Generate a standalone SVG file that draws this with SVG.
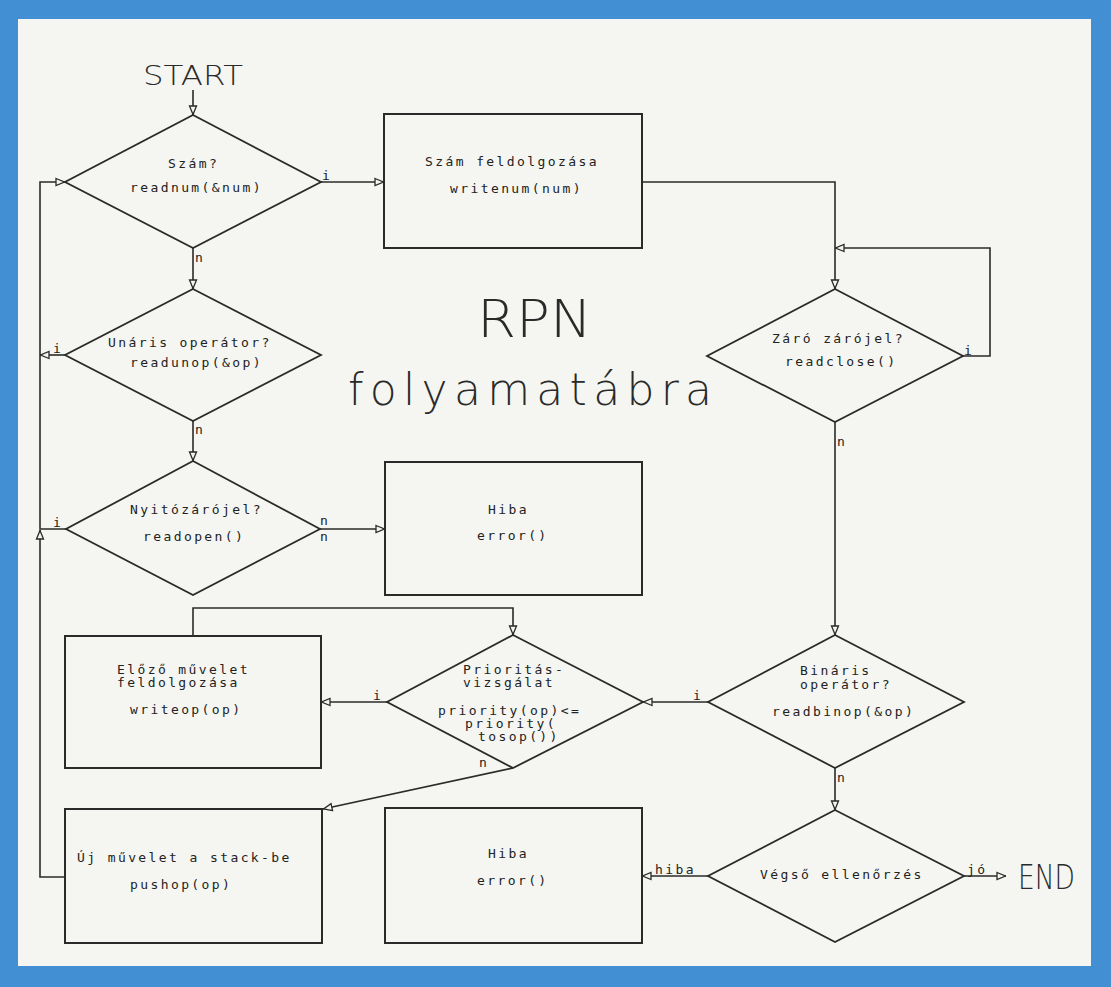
<svg xmlns="http://www.w3.org/2000/svg" width="1111" height="987" viewBox="0 0 1111 987">
<style>
.shape{fill:none;stroke:#2a2a2a;stroke-width:1.8}
.box{fill:none;stroke:#2a2a2a;stroke-width:2}
.con{fill:none;stroke:#2a2a2a;stroke-width:1.6}
.t{font-family:"DejaVu Sans Mono","Liberation Mono",monospace;font-size:13px;letter-spacing:2.4px;fill:#222}
.big{font-family:"DejaVu Sans","Liberation Sans",sans-serif;font-weight:200;fill:#2a2a2a}
</style>
<defs>
<marker id="arr" viewBox="0 0 10 10" refX="10" refY="5" markerWidth="10" markerHeight="10" markerUnits="userSpaceOnUse" orient="auto">
<path d="M1,1.5 L9.5,5 L1,8.5 z" fill="#f4f5ef" stroke="#2a2a2a" stroke-width="1.3"/>
</marker>
</defs>
<rect x="0" y="0" width="1111" height="987" fill="#4290d3"/>
<rect x="18" y="19" width="1073" height="947" fill="#f5f6f1"/>

<g id="title">
<text class="big" x="477" y="337" font-size="52" textLength="115" lengthAdjust="spacingAndGlyphs">RPN</text>
<text class="big" x="348" y="405" font-size="44" textLength="364" lengthAdjust="spacing">folyamatábra</text>
</g>

<g id="start"><text class="big" x="143" y="85" font-size="27" textLength="100" lengthAdjust="spacingAndGlyphs">START</text></g>
<g id="end"><text class="big" x="1018" y="889" font-size="34" textLength="57" lengthAdjust="spacingAndGlyphs">END</text></g>

<g id="connectors">
<path class="con" d="M193,90 V115" marker-end="url(#arr)"/>
<path class="con" d="M321,182 H384" marker-end="url(#arr)"/>
<path class="con" d="M642,182 H835 V289" marker-end="url(#arr)"/>
<path class="con" d="M963,356 H990 V248 H835" marker-end="url(#arr)"/>
<path class="con" d="M193,248 V289" marker-end="url(#arr)"/>
<path class="con" d="M65,355 H40" marker-end="url(#arr)"/>
<path class="con" d="M193,421 V461" marker-end="url(#arr)"/>
<path class="con" d="M65,877 H40 V530" marker-end="url(#arr)"/>
<path class="con" d="M66,529 H40 V182 H65" marker-end="url(#arr)"/>
<path class="con" d="M320,529 H385" marker-end="url(#arr)"/>
<path class="con" d="M835,422 V635" marker-end="url(#arr)"/>
<path class="con" d="M708,702 H643" marker-end="url(#arr)"/>
<path class="con" d="M835,768 V810" marker-end="url(#arr)"/>
<path class="con" d="M387,702 H321" marker-end="url(#arr)"/>
<path class="con" d="M193,636 V608 H513 V635" marker-end="url(#arr)"/>
<path class="con" d="M513,768 L323,809" marker-end="url(#arr)"/>
<path class="con" d="M708,876 H642" marker-end="url(#arr)"/>
<path class="con" d="M964,876 H1006" marker-end="url(#arr)"/>
<text class="t" x="322" y="180">i</text>
<text class="t" x="195" y="262">n</text>
<text class="t" x="964" y="355">i</text>
<text class="t" x="837" y="446">n</text>
<text class="t" x="53" y="353">i</text>
<text class="t" x="195" y="434">n</text>
<text class="t" x="53" y="527">i</text>
<text class="t" x="320" y="525">n</text>
<text class="t" x="320" y="541">n</text>
<text class="t" x="693" y="700">i</text>
<text class="t" x="837" y="782">n</text>
<text class="t" x="373" y="700">i</text>
<text class="t" x="479" y="767">n</text>
<text class="t" x="655" y="874">hiba</text>
<text class="t" x="967" y="874">jó</text>
</g>

<g id="d-szam">
<polygon class="shape" points="193,115 321,182 193,248 65,182"/>
<text class="t" x="168" y="168">Szám?</text>
<text class="t" x="130" y="192">readnum(&amp;num)</text>
</g>

<g id="b-szam">
<rect class="box" x="384" y="114" width="258" height="134"/>
<text class="t" x="425" y="166">Szám feldolgozása</text>
<text class="t" x="450" y="193">writenum(num)</text>
</g>

<g id="d-zaro">
<polygon class="shape" points="835,289 963,356 835,422 707,356"/>
<text class="t" x="772" y="343">Záró zárójel?</text>
<text class="t" x="785" y="366">readclose()</text>
</g>

<g id="d-unaris">
<polygon class="shape" points="193,289 321,355 193,421 65,355"/>
<text class="t" x="108" y="347">Unáris operátor?</text>
<text class="t" x="130" y="367">readunop(&amp;op)</text>
</g>

<g id="d-nyito">
<polygon class="shape" points="193,461 320,529 193,595 66,529"/>
<text class="t" x="130" y="514">Nyitózárójel?</text>
<text class="t" x="143" y="541">readopen()</text>
</g>

<g id="b-hiba1">
<rect class="box" x="385" y="462" width="257" height="133"/>
<text class="t" x="488" y="514">Hiba</text>
<text class="t" x="477" y="540">error()</text>
</g>

<g id="b-elozo">
<rect class="box" x="65" y="636" width="256" height="132"/>
<text class="t" x="117" y="674">Előző művelet</text>
<text class="t" x="117" y="687">feldolgozása</text>
<text class="t" x="130" y="714">writeop(op)</text>
</g>

<g id="d-prior">
<polygon class="shape" points="513,635 643,702 513,768 387,702"/>
<text class="t" x="463" y="674">Prioritás-</text>
<text class="t" x="463" y="687">vizsgálat</text>
<text class="t" x="438" y="715">priority(op)&lt;=</text>
<text class="t" x="465" y="728">priority(</text>
<text class="t" x="478" y="741">tosop())</text>
</g>

<g id="d-binaris">
<polygon class="shape" points="835,635 964,702 835,768 708,702"/>
<text class="t" x="800" y="675">Bináris</text>
<text class="t" x="800" y="689">operátor?</text>
<text class="t" x="772" y="716">readbinop(&amp;op)</text>
</g>

<g id="b-uj">
<rect class="box" x="65" y="809" width="257" height="134"/>
<text class="t" x="77" y="862">Új művelet a stack-be</text>
<text class="t" x="130" y="889">pushop(op)</text>
</g>

<g id="b-hiba2">
<rect class="box" x="385" y="808" width="257" height="135"/>
<text class="t" x="488" y="858">Hiba</text>
<text class="t" x="477" y="885">error()</text>
</g>

<g id="d-vegso">
<polygon class="shape" points="835,810 964,876 835,942 708,876"/>
<text class="t" x="760" y="879">Végső ellenőrzés</text>
</g>
</svg>
